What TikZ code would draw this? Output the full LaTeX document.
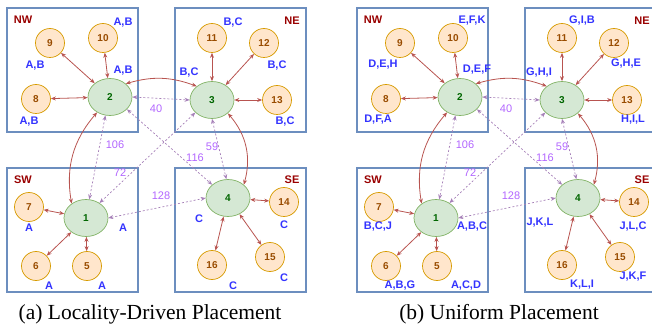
\documentclass[tikz,border=0pt]{standalone}
\usepackage{fontspec}
\setmainfont{Liberation Serif}
\setsansfont{Liberation Sans}
\usetikzlibrary{arrows.meta,shapes.geometric}
\definecolor{boxblue}{HTML}{6C8EBF}
\definecolor{hubline}{HTML}{82B366}
\definecolor{hubfill}{HTML}{D5E8D4}
\definecolor{hubtext}{HTML}{006600}
\definecolor{siteline}{HTML}{D79B00}
\definecolor{sitefill}{HTML}{FFE6CC}
\definecolor{sitetext}{HTML}{994C00}
\definecolor{linkred}{HTML}{B85450}
\definecolor{wanpurple}{HTML}{A680B8}
\definecolor{costpurple}{HTML}{B266FF}
\definecolor{tagblue}{HTML}{3333FF}
\definecolor{zonered}{HTML}{990000}
\begin{document}
\begin{tikzpicture}[x=1pt,y=-1pt,
	>={Stealth[length=5pt,width=4pt]},
	zone/.style={draw=boxblue,line width=1.2pt},
	hub/.style={ellipse,draw=hubline,fill=hubfill,line width=0.7pt,minimum width=44pt,minimum height=37pt,inner sep=0pt,text=hubtext,font=\sffamily\bfseries\fontsize{10}{10}\selectfont},
	site/.style={circle,draw=siteline,fill=sitefill,line width=0.7pt,minimum size=29pt,inner sep=0pt,text=sitetext,font=\sffamily\bfseries\fontsize{10}{10}\selectfont},
	link/.style={draw=linkred,line width=0.8pt,<->},
	wan/.style={draw=wanpurple,line width=0.7pt,dash pattern=on 2pt off 2pt,<->},
	cost/.style={text=costpurple,font=\sffamily\fontsize{11}{11}\selectfont,inner sep=0pt},
	tag/.style={text=tagblue,font=\sffamily\bfseries\fontsize{11}{11}\selectfont,inner sep=0pt},
	zonename/.style={text=zonered,font=\sffamily\bfseries\fontsize{11}{11}\selectfont,inner sep=0pt},
	caption/.style={font=\fontsize{21.5}{22}\selectfont,inner sep=0pt}]
	\useasboundingbox (0,0) rectangle (652,328);
	\foreach \p/\dx in {a/0,b/350}{
		\begin{scope}[xshift=\dx pt]
			% quadrants
			\draw[zone] (7,8) rectangle (138,132);
			\draw[zone] (175,8) rectangle (306,132);
			\draw[zone] (7,168) rectangle (138,292);
			\draw[zone] (175,168) rectangle (306,292);
			\node[zonename] (\p-nw) at (23,20) {NW};
			\node[zonename] (\p-ne) at (292,21) {NE};
			\node[zonename] (\p-sw) at (23,180) {SW};
			\node[zonename] (\p-se) at (292,180) {SE};
			% hubs
			\node[hub] (\p1) at (86,218) {1};
			\node[hub] (\p2) at (110,97) {2};
			\node[hub] (\p3) at (212,100) {3};
			\node[hub] (\p4) at (228,198) {4};
			% sites
			\node[site] (\p5) at (87,266) {5};
			\node[site] (\p6) at (36,266) {6};
			\node[site] (\p7) at (29,207) {7};
			\node[site] (\p8) at (36,99) {8};
			\node[site] (\p9) at (50,43) {9};
			\node[site] (\p10) at (103,38) {10};
			\node[site] (\p11) at (212,38) {11};
			\node[site] (\p12) at (264,43) {12};
			\node[site] (\p13) at (277,100) {13};
			\node[site] (\p14) at (284,202) {14};
			\node[site] (\p15) at (270,257) {15};
			\node[site] (\p16) at (212,265) {16};
			\foreach \h/\s in {1/5,1/6,1/7,2/8,2/9,2/10,3/11,3/12,3/13,4/14,4/15,4/16}
				\draw[link] (\p\h) -- (\p\s);
			% ring between hubs
			\draw[link] (\p2.230) to[bend right=25] (\p1.135);
			\draw[link] (\p2.40) to[bend left=18] (\p3.138);
			\draw[link] (\p3.320) to[bend left=28] (\p4.40);
			% wide-area latencies
			\draw[wan] (\p2.east) -- (\p3.west);
			\draw[wan] (\p2.256) -- (\p1.80);
			\draw[wan] (\p3.217) -- (\p1.48);
			\draw[wan] (\p2.324) -- (\p4.140);
			\draw[wan] (\p3.270) -- (\p4.95);
			\draw[wan] (\p1.east) -- (\p4.west);
			\node[cost] (\p-c23) at (156,109) {40};
			\node[cost] (\p-c21) at (115,145) {106};
			\node[cost] (\p-c31) at (120,173) {72};
			\node[cost] (\p-c24) at (195,158) {116};
			\node[cost] (\p-c34) at (212,147) {59};
			\node[cost] (\p-c14) at (161,196) {128};
		\end{scope}
	}
	% replicas, locality-driven
	\foreach \n/\x/\y/\t in {9/35/66/{A,B},10/123/23/{A,B},2/123/71/{A,B},8/29/122/{A,B},
		11/233/23/{B,C},12/277/66/{B,C},3/189/73/{B,C},13/285/122/{B,C},
		7/29/228/A,1/123/228/A,6/49/286/A,5/102/286/A,
		4/199/219/C,14/284/225/C,16/233/286/C,15/284/278/C}
		\node[tag] (a-t\n) at (\x,\y) {\t};
	% replicas, uniform
	\foreach \n/\x/\y/\t in {10/472/21/{E,F,K},9/383/65/{D,E,H},2/477/70/{D,E,F},8/378/120/{D,F,A},
		11/582/21/{G,I,B},3/539/73/{G,H,I},12/626/64/{G,H,E},13/633/120/{H,I,L},
		7/378/227/{B,C,J},1/472/227/{A,B,C},6/400/286/{A,B,G},5/466/286/{A,C,D},
		4/540/223/{J,K,L},14/633/227/{J,L,C},16/582/285/{K,L,I},15/633/277/{J,K,F}}
		\node[tag] (b-t\n) at (\x,\y) {\t};
	\node[caption] (capa) at (150,314) {(a) Locality-Driven Placement};
	\node[caption] (capb) at (499,314) {(b) Uniform Placement};
\end{tikzpicture}
\end{document}
